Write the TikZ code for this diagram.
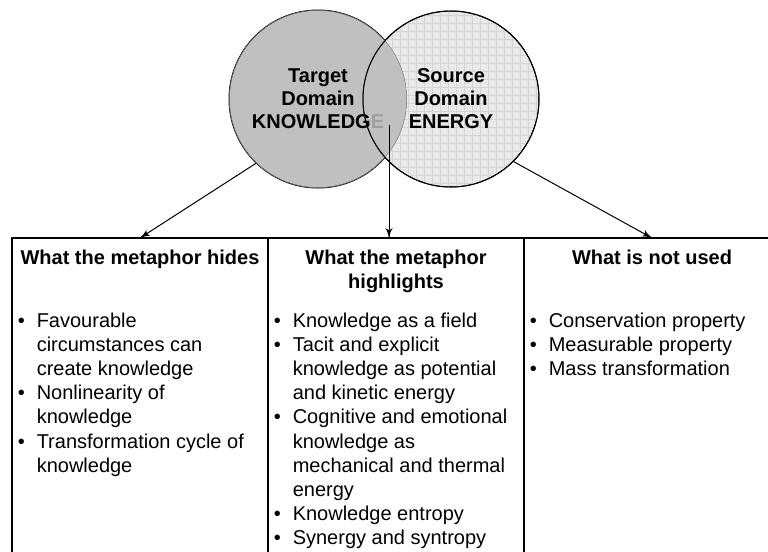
\documentclass[tikz,border=0pt]{standalone}
\usepackage{fontspec}
\setmainfont{Liberation Sans}
\usetikzlibrary{arrows}
\usetikzlibrary{decorations.markings}
\usetikzlibrary{positioning}
\usetikzlibrary{patterns.meta}
\definecolor{knowgray}{RGB}{192,192,192}
\definecolor{energygray}{RGB}{233,233,233}
\definecolor{gridgray}{RGB}{212,212,212}
\tikzset{domcircle/.style = {circle, draw, line width=0.75pt, inner sep=0}}
\tikzset{domtext/.style = {align=center, font=\bfseries\fontsize{15}{17.25}\selectfont}}
\tikzset{tablecol/.style = {draw, line width=1.5pt, anchor=north west, outer sep=0,
                            minimum width=192pt, minimum height=250pt}}
\tikzset{head/.style = {anchor=base, align=center, font=\bfseries\fontsize{15}{18}\selectfont}}
\tikzset{itemlist/.style = {anchor=base west, inner sep=0, font=\fontsize{15}{18.15}\selectfont}}
\tikzset{link/.style = {line width=0.75pt,
                        decoration={markings,
                                    mark=at position 1 with {\arrow[scale=1.5]{latex'}}},
                        postaction={decorate}}}

\begin{document}
\begin{tikzpicture}[x=0.75pt, y=-0.75pt]
    \useasboundingbox (0, 0) rectangle (768, 551);
    \clip (0, 0) rectangle (768, 551);

    % the two domains
    \node [domcircle, fill=knowgray, minimum size=133.5pt] (tgt) at (318, 99) {};
    \node [domcircle, fill=energygray, minimum size=132pt,
           postaction={pattern={Lines[distance=6pt, angle=0, line width=0.4pt]}, pattern color=gridgray},
           postaction={pattern={Lines[distance=6pt, angle=90, line width=0.4pt]}, pattern color=gridgray}]
          (src) at (451, 99) {};
    \begin{scope}
      \clip (tgt.center) circle [radius=89];
      \fill [knowgray] (src.center) circle [radius=88];
      \draw [gray, line width=0.75pt] (tgt.center) circle [radius=89];
    \end{scope}
    \draw [line width=0.75pt] (src.center) circle [radius=88];

    \node [domtext] (tgtT) at (tgt.center) {Target\\Domain\\KNOWLEDG\textcolor{gray!75}{E}};
    \node [domtext] (srcT) at (src.center) {Source\\Domain\\ENERGY};

    % the table
    \node [tablecol] (hides) at (12, 238) {};
    \node [tablecol, right=0pt of hides] (highlights) {};
    \node [tablecol, right=0pt of highlights] (unused) {};

    \node [head] (hidesH) at (140, 264) {What the metaphor hides};
    \node [head] (highlightsH) at (396, 288) {What the metaphor\\highlights};
    \node [head] (unusedH) at (652, 264) {What is not used};

    \node [itemlist] (hidesL) at (17.5, 327) {%
      \begin{tabular}[t]{@{}l@{\hspace{9pt}}l@{}}
        • & Favourable\\
          & circumstances can\\
          & create knowledge\\
        • & Nonlinearity of\\
          & knowledge\\
        • & Transformation cycle of\\
          & knowledge
      \end{tabular}};
    \node [itemlist] (highlightsL) at (273.5, 327) {%
      \begin{tabular}[t]{@{}l@{\hspace{9pt}}l@{}}
        • & Knowledge as a field\\
        • & Tacit and explicit\\
          & knowledge as potential\\
          & and kinetic energy\\
        • & Cognitive and emotional\\
          & knowledge as\\
          & mechanical and thermal\\
          & energy\\
        • & Knowledge entropy\\
        • & Synergy and syntropy
      \end{tabular}};
    \node [itemlist] (unusedL) at (529.5, 327) {%
      \begin{tabular}[t]{@{}l@{\hspace{9pt}}l@{}}
        • & Conservation property\\
        • & Measurable property\\
        • & Mass transformation
      \end{tabular}};

    % connectors
    \coordinate (overlap) at (389, 125);
    \draw [link] (tgt.226) -- (hides.north);
    \draw [link] (overlap) -- (overlap |- highlights.north);
    \draw [link] (src.-45) -- (unused.north);
  \end{tikzpicture}
\end{document}
